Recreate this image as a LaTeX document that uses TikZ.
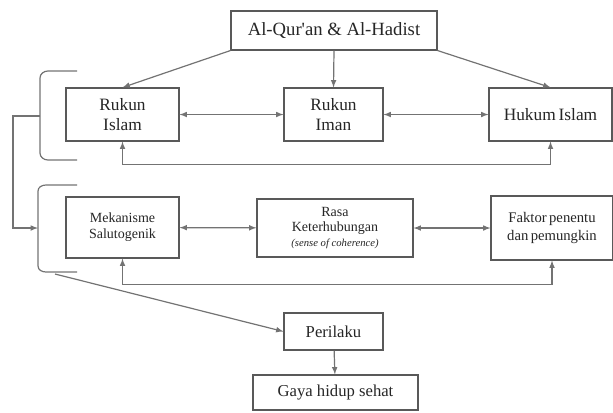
\documentclass[tikz,border=0pt]{standalone}
\usepackage{fontspec}
\setmainfont{Liberation Serif}
\usepackage{tikz}
\usetikzlibrary{arrows,positioning,calc}
\tikzstyle{box}=[draw=black!65,fill=white,line width=0.8pt,inner sep=2pt,align=center,text=black!85]
\tikzstyle{link}=[draw=black!55,line width=0.9pt,>=latex,arrows={[scale=1.15]}]
\tikzstyle{brace}=[draw=black!55,line width=0.9pt]

\begin{document}
\begin{tikzpicture}[x=0.75pt,y=-0.75pt]
\useasboundingbox (0,0) rectangle (613,412);
% source
\node [box,minimum width=206*0.75pt,minimum height=39*0.75pt,font=\fontsize{14}{15}\selectfont] (src) at (334,30.5) {Al-Qur\textquotesingle an \& Al-Hadist};
% first row
\node [box,minimum width=113*0.75pt,minimum height=53*0.75pt,font=\fontsize{13}{14.5}\selectfont] (ris) at (122.5,114.5) {Rukun\\Islam};
\node [box,minimum width=99*0.75pt,minimum height=53*0.75pt,font=\fontsize{13}{14.5}\selectfont] (rim) at (333.5,114.5) {Rukun\\Iman};
\node [box,minimum width=123*0.75pt,minimum height=53*0.75pt,font=\fontsize{13}{14.5}\selectfont] (hki) at (550.5,114.5) {Hukum\,Islam};
% second row
\node [box,minimum width=113*0.75pt,minimum height=61*0.75pt,font=\fontsize{10.5}{12}\selectfont] (mks) at (122.5,227.5) {Mekanisme\\Salutogenik};
\node [box,minimum width=156*0.75pt,minimum height=58*0.75pt,font=\fontsize{10.5}{11.5}\selectfont] (rsk) at (335,228) {Rasa\\Keterhubungan\\{\itshape\fontsize{8}{9}\selectfont (sense of coherence)}};
\node [box,minimum width=122*0.75pt,minimum height=64*0.75pt,font=\fontsize{11}{13}\selectfont] (fkt) at (552,228) {Faktor\,penentu\\dan\,pemungkin};
% bottom
\node [box,minimum width=99*0.75pt,minimum height=37*0.75pt,font=\fontsize{12.5}{14}\selectfont] (prl) at (333.5,331.5) {Perilaku};
\node [box,minimum width=165*0.75pt,minimum height=35*0.75pt,font=\fontsize{12.5}{14}\selectfont] (ghs) at (335.5,392.5) {Gaya hidup sehat};

% brackets
\draw [brace] (77,71) -- (48,71) to[out=180,in=90] (40,78) -- (40,153) to[out=-90,in=180] (48,160) -- (77,160);
\draw [brace] (77,185) -- (46,185) to[out=180,in=90] (38,191) -- (38,266) to[out=-90,in=180] (46,272) -- (77,272);
\coordinate (b1) at (40,116);
\coordinate (b2) at (38,228);
\coordinate (b3) at (55,274);

% arrows from source
\draw [link,->] (src.south west) -- (ris.north);
\draw [link,->] (src.south) -- (rim.north);
\draw [link,->] (src.south east) -- (hki.north);
% first row links
\draw [link,<->] (ris) -- (rim);
\draw [link,<->] (rim) -- (hki);
\draw [link,<->] (ris.south) -- ++(0,23) -| (hki.south);
% bracket to bracket
\draw [link,->] (b1) -- (13,116) |- (b2);
% second row links
\draw [link,<->] (mks) -- (rsk);
\draw [link,<->] (rsk) -- (fkt);
\draw [link,<->] (mks.south) -- ++(0,26) -| (fkt.south);
% outcome
\draw [link,->] (b3) -- (prl.west);
\draw [link,->] (prl) -- (ghs);
\end{tikzpicture}
\end{document}
